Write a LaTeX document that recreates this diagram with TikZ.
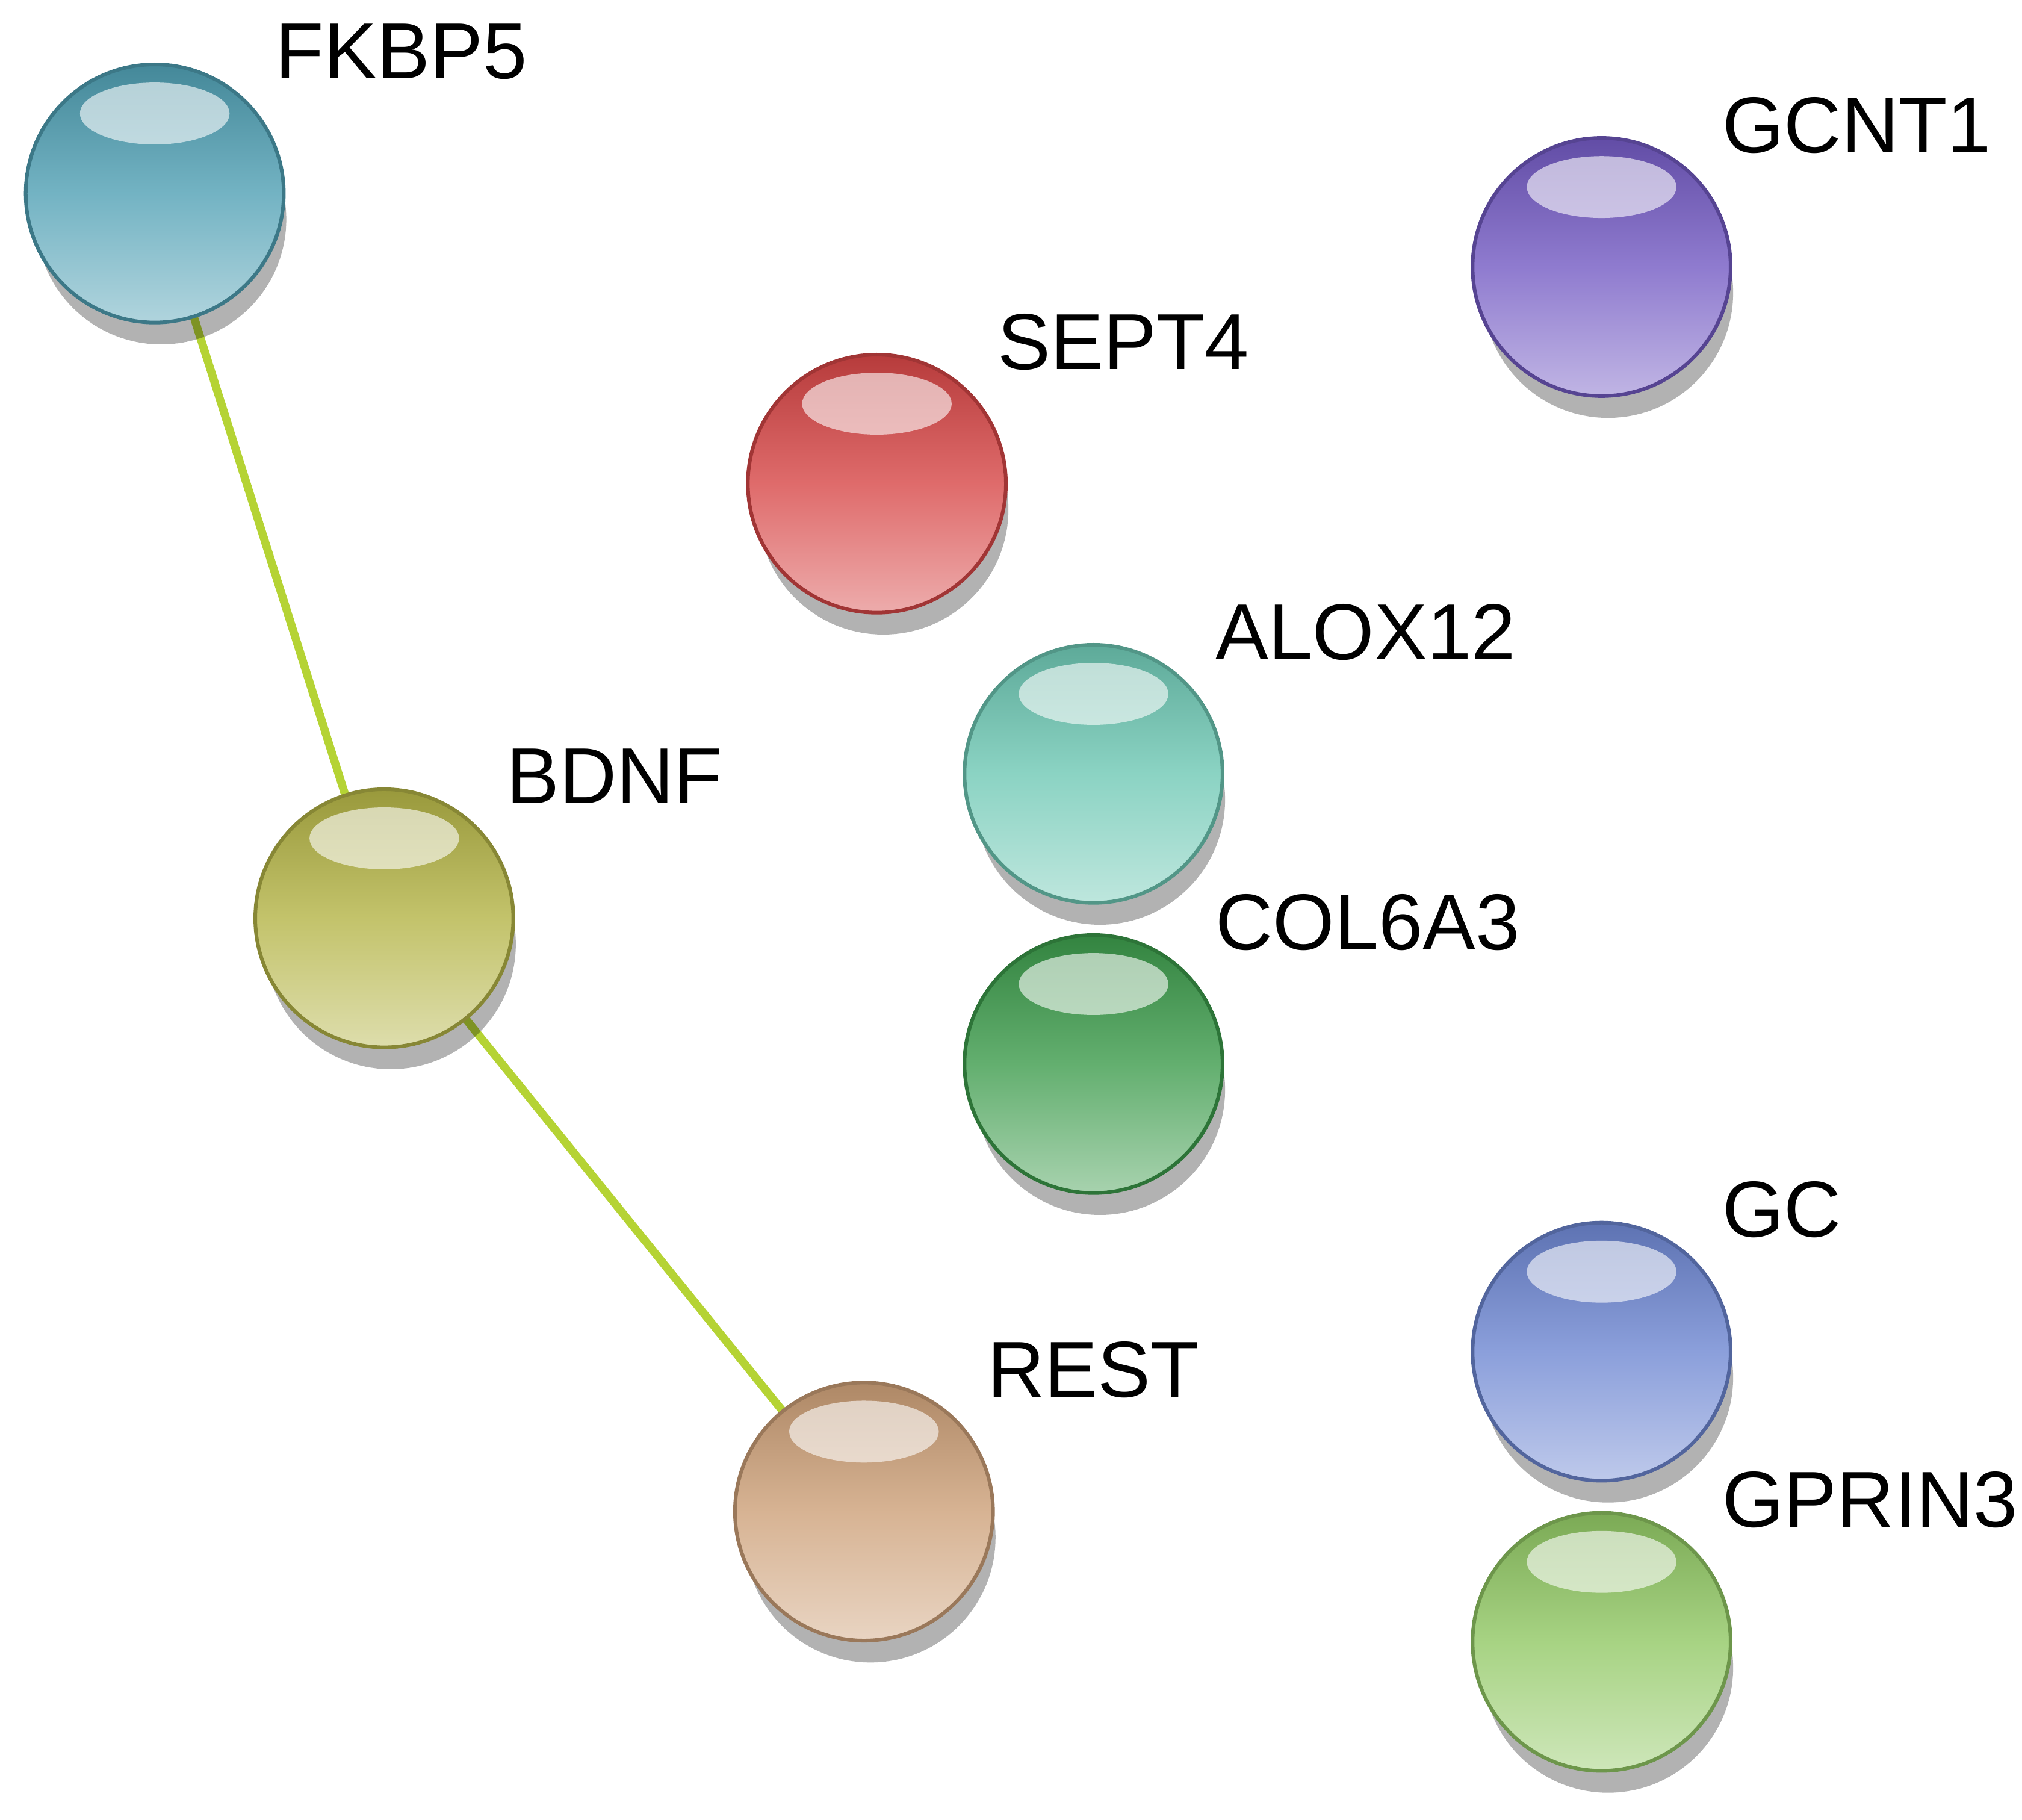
\documentclass[tikz,border=0pt]{standalone}
\usepackage{fontspec}
\setmainfont{Liberation Sans}
\begin{document}
\begin{tikzpicture}[x=0.01cm,y=-0.01cm,
  edge/.style={line width=1.8pt,draw={rgb,255:red,181;green,211;blue,52}},
  lbl/.style={font=\fontsize{17.5}{20}\selectfont,inner sep=0pt,anchor=west}]
\useasboundingbox (0,0) rectangle (1568,1411);
\newcommand{\prot}[6]{%
  \fill[black,opacity=0.3] (#2+5,#3+20) circle (97);
  \node[circle,minimum size=2cm,inner sep=0pt,top color=#4!85!black,bottom color=#4!45!white,middle color=#4!80!white,draw=#4!75!black,line width=0.8pt] (#1) at (#2,#3) {};
  \fill[white,opacity=0.6] (#2,#3-62) ellipse (58 and 24);
  \node[lbl] (#1l) at (#6,#3-110) {#5};
}
\definecolor{cF}{RGB}{80,160,180}
\definecolor{cG}{RGB}{115,90,195}
\definecolor{cS}{RGB}{215,70,70}
\definecolor{cA}{RGB}{110,200,180}
\definecolor{cB}{RGB}{180,180,70}
\definecolor{cC}{RGB}{60,155,75}
\definecolor{cGC}{RGB}{110,135,210}
\definecolor{cR}{RGB}{205,160,120}
\definecolor{cP}{RGB}{145,200,100}
\coordinate (pF) at (120,150);
\coordinate (pB) at (298,712);
\coordinate (pR) at (670,1172);
\draw[edge] (pF) -- (pB);
\draw[edge] (pB) -- (pR);
\prot{FKBP5}{120}{150}{cF}{FKBP5}{213}
\prot{GCNT1}{1242}{207}{cG}{GCNT1}{1335}
\prot{SEPT4}{680}{375}{cS}{SEPT4}{773}
\prot{ALOX12}{848}{600}{cA}{ALOX12}{942}
\prot{BDNF}{298}{712}{cB}{BDNF}{392}
\prot{COL6A3}{848}{825}{cC}{COL6A3}{942}
\prot{GC}{1242}{1048}{cGC}{GC}{1335}
\prot{REST}{670}{1172}{cR}{REST}{765}
\prot{GPRIN3}{1242}{1273}{cP}{GPRIN3}{1335}
\end{tikzpicture}
\end{document}
